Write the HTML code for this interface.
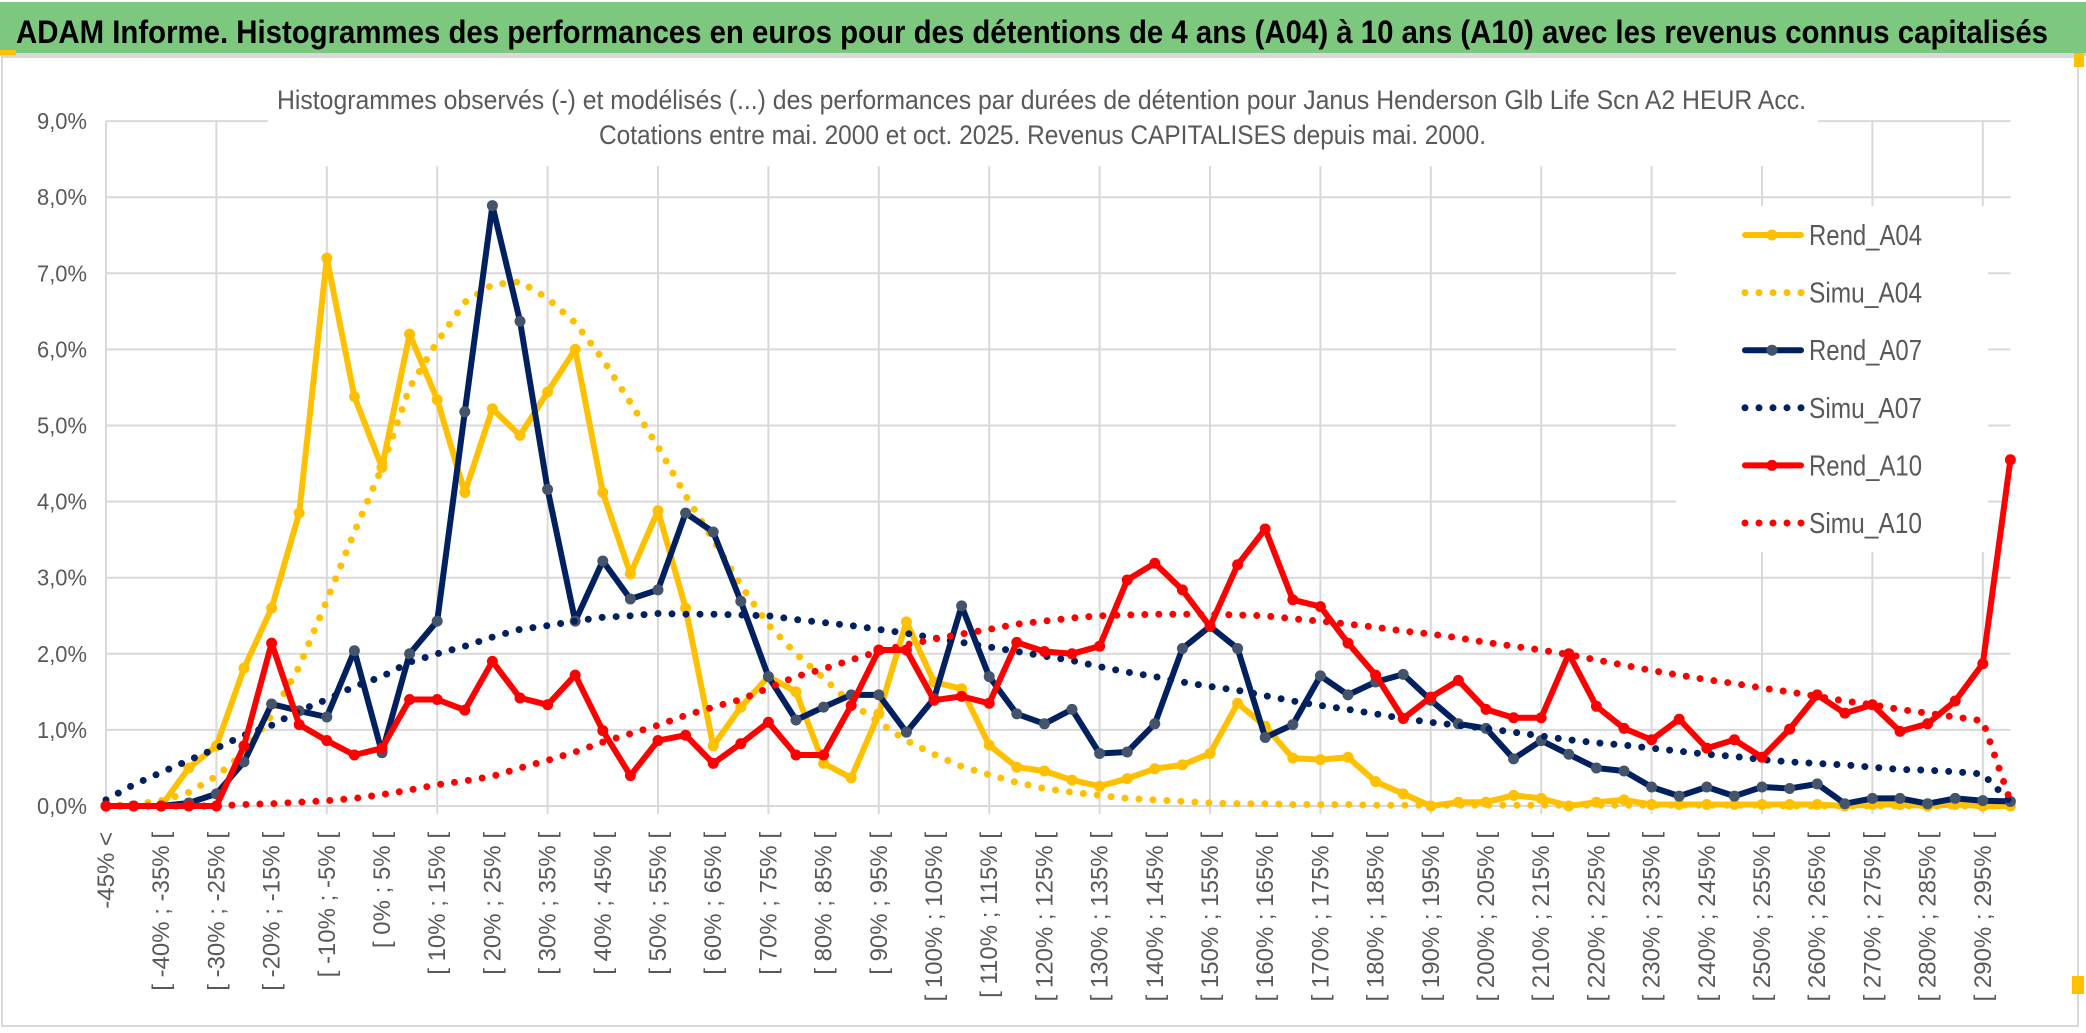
<!DOCTYPE html>
<html><head><meta charset="utf-8">
<style>
html,body{margin:0;padding:0;background:#fff;}
svg{display:block;font-family:"Liberation Sans",sans-serif;}
</style></head>
<body>
<svg id="chart" width="2086" height="1033" viewBox="0 0 2086 1033" xmlns="http://www.w3.org/2000/svg">
  <rect x="0" y="0" width="2086" height="1033" fill="#fff"/>
  <rect x="2" y="57" width="2076" height="969" fill="#fff" stroke="#d9d9d9" stroke-width="2"/>
  <rect x="0" y="2" width="2086" height="51" fill="#7dc87f"/>
  <rect x="0" y="53" width="2086" height="3" fill="#d9d9d9"/>
  <rect x="0" y="50" width="16" height="5" fill="#ffc000"/>
  <rect x="2074" y="53" width="10" height="14" fill="#ffc000"/>
  <rect x="2072" y="976" width="12" height="18" fill="#ffc000"/>
  <text x="16" y="43" font-size="32" font-weight="bold" fill="#000" textLength="2032" lengthAdjust="spacingAndGlyphs">ADAM Informe. Histogrammes des performances en euros pour des détentions de 4 ans (A04) à 10 ans (A10) avec les revenus connus capitalisés</text>
  <g id="grid"></g>
  <rect x="268" y="78" width="1550" height="88" fill="#fff"/>
  <text x="277" y="109" font-size="27" fill="#595959" textLength="1529" lengthAdjust="spacingAndGlyphs">Histogrammes observés (-) et modélisés (...) des performances par durées de détention pour Janus Henderson Glb Life Scn A2 HEUR Acc.</text>
  <text x="599" y="144" font-size="27" fill="#595959" textLength="887" lengthAdjust="spacingAndGlyphs">Cotations entre mai. 2000 et oct. 2025. Revenus CAPITALISES depuis mai. 2000.</text>
  <g id="ylabels"></g>
  <g id="xlabels"></g>
  <rect x="1676" y="206" width="312" height="346" fill="#fff"/>
  <g id="series"></g>
  <g id="legend"></g>
</svg>
<script>
const categoriesCount = 70;
const yTicks = [0,1,2,3,4,5,6,7,8,9];
const yTickLabels = ["0,0%","1,0%","2,0%","3,0%","4,0%","5,0%","6,0%","7,0%","8,0%","9,0%"];
const binStarts = [];
for (let k = 1; k < 70; k++) binStarts.push(-45 + 5*(k-1));
const rendA04 = [0,0,0,0.5,0.79,1.81,2.6,3.85,7.2,5.38,4.45,6.2,5.34,4.12,5.22,4.87,5.44,6.0,4.12,3.05,3.88,2.6,0.79,1.3,1.7,
 1.5,0.56,0.37,1.21,2.42,1.63,1.54,0.8,0.51,0.46,0.34,0.26,0.36,0.49,0.54,0.69,
 1.35,1.05,0.63,0.61,0.64,0.32,0.16,0.0,0.05,0.05,0.14,0.1,0.0,0.05,0.08,
 0.02,0.02,0.02,0.02,0.02,0.02,0.02,0.0,0.02,0.02,0.0,0.02,0.0,0.0];
const simuA04 = [0,0.02,0.07,0.18,0.39,0.7,1.19,1.83,2.7,3.6,4.45,5.5,6.1,6.62,6.85,6.89,6.67,6.35,5.87,5.3,4.72,4.08,3.5,2.9,2.38,
 2.0,1.68,1.35,1.1,0.86,0.68,0.52,0.41,0.31,0.23,0.18,0.14,0.1,0.08,0.06,0.04,
 0.03,0.03,0.02,0.02,0.02,0.01,0.01,0.01,0.01,0.01,0.01,0.01,0.01,0.01,0.01,
 0.01,0.01,0.01,0.01,0.01,0,0,0,0,0,0,0,0,0];
const rendA07 = [0,0,0,0.04,0.16,0.58,1.34,1.25,1.17,2.04,0.7,2.0,2.43,5.18,7.89,6.37,4.16,2.43,3.22,2.72,2.84,3.85,3.6,2.69,1.7,
 1.13,1.3,1.46,1.46,0.97,1.41,2.63,1.7,1.21,1.08,1.27,0.69,0.71,1.08,2.07,2.36,
 2.07,0.9,1.07,1.71,1.46,1.63,1.73,1.39,1.08,1.02,0.62,0.86,0.68,0.5,0.46,
 0.25,0.13,0.25,0.13,0.25,0.23,0.29,0.03,0.1,0.1,0.03,0.1,0.07,0.06];
const simuA07 = [0.08,0.28,0.44,0.6,0.76,0.93,1.06,1.25,1.4,1.57,1.7,1.89,2.0,2.1,2.22,2.32,2.37,2.43,2.48,2.5,2.53,2.52,2.52,2.51,2.5,
 2.45,2.41,2.37,2.32,2.27,2.21,2.15,2.09,2.03,1.97,1.91,1.83,1.76,1.7,1.63,1.57,
 1.52,1.45,1.38,1.32,1.27,1.21,1.15,1.1,1.06,1.02,0.97,0.92,0.87,0.83,0.8,
 0.76,0.72,0.68,0.65,0.61,0.58,0.56,0.54,0.51,0.48,0.47,0.45,0.42,0.05];
const rendA10 = [0,0,0,0,0,0.79,2.14,1.07,0.86,0.67,0.76,1.4,1.4,1.26,1.9,1.42,1.33,1.72,0.99,0.4,0.86,0.93,0.56,0.82,1.1,
 0.67,0.67,1.32,2.05,2.05,1.39,1.44,1.35,2.15,2.03,2.0,2.1,2.97,3.19,2.84,2.36,
 3.17,3.64,2.71,2.62,2.14,1.72,1.15,1.43,1.65,1.27,1.16,1.16,2.0,1.31,1.02,
 0.87,1.14,0.76,0.87,0.64,1.01,1.46,1.22,1.33,0.98,1.08,1.38,1.87,4.55];
const simuA10 = [0,0,0,0,0,0.02,0.03,0.05,0.07,0.1,0.15,0.21,0.28,0.33,0.39,0.5,0.6,0.71,0.84,0.95,1.06,1.19,1.3,1.4,1.55,
 1.7,1.8,1.92,2.03,2.12,2.19,2.26,2.32,2.39,2.43,2.47,2.5,2.51,2.52,2.52,2.52,
 2.51,2.5,2.46,2.43,2.39,2.35,2.3,2.26,2.21,2.15,2.1,2.05,1.99,1.92,1.85,
 1.78,1.72,1.66,1.61,1.55,1.5,1.44,1.38,1.33,1.27,1.22,1.17,1.12,0.06];
const seriesNames = ["Rend_A04","Simu_A04","Rend_A07","Simu_A07","Rend_A10","Simu_A10"];

const NS = "http://www.w3.org/2000/svg";
const X0 = 106, STEP = 27.6, Y0 = 806, YPER = 76.1;
function xPos(i){ return X0 + i*STEP; }
function yPos(v){ return Y0 - v*YPER; }
function mk(tag, attrs, parent){ const e = document.createElementNS(NS, tag); for (const k in attrs) e.setAttribute(k, attrs[k]); parent.appendChild(e); return e; }

const grid = document.getElementById('grid');
const xEnd = xPos(categoriesCount-1);
yTicks.forEach(function(t){
  const l = mk('line', {x1:X0, x2:xEnd, y1:yPos(t), y2:yPos(t), stroke:'#d9d9d9', 'stroke-width':2}, grid);
  
  
});
for (let i = 0; i < categoriesCount; i += 4) {
  const l = mk('line', {x1:xPos(i), x2:xPos(i), y1:yPos(9), y2:Y0+8, stroke:'#d9d9d9', 'stroke-width':2}, grid);
  
  
}

const yl = document.getElementById('ylabels');
yTicks.forEach(function(t, k){
  const tx = mk('text', {x:87, y:yPos(t)+8, 'text-anchor':'end', 'font-size':23, fill:'#595959', textLength:50, lengthAdjust:'spacingAndGlyphs'}, yl);
  tx.textContent = yTickLabels[k];
  
  
});

const xl = document.getElementById('xlabels');
function catLabel(i){
  if (i === 0) return "-45% <";
  const a = binStarts[i-1];
  return "[ " + a + "% ; " + (a+5) + "% [";
}
for (let i = 0; i < categoriesCount; i += 2) {
  const x = xPos(i) + 8, y = 832;
  const tx = mk('text', {x:x, y:y, 'text-anchor':'end', 'font-size':24, fill:'#595959', transform:'rotate(-90 '+x+' '+y+')'}, xl);
  tx.textContent = catLabel(i);
  
  
}

const layer = document.getElementById('series');
function pts(arr){ return arr.map(function(v,i){ return xPos(i).toFixed(1)+','+yPos(v).toFixed(1); }).join(' '); }
function solid(arr, color, marker, name){
  const g = mk('g', {}, layer);
  
  
  const pl = mk('polyline', {points:pts(arr), fill:'none', stroke:color, 'stroke-width':6, 'stroke-linejoin':'round', 'stroke-linecap':'round'}, g);
  
  
  arr.forEach(function(v,i){
    const c = mk('circle', {cx:xPos(i), cy:yPos(v), r:5.5, fill:marker}, g);
    
    
  });
}
function dotted(arr, color, name){
  const pl = mk('polyline', {points:pts(arr), fill:'none', stroke:color, 'stroke-width':7, 'stroke-linecap':'round', 'stroke-linejoin':'round', 'stroke-dasharray':'0 14'}, layer);
  
  
}
solid(rendA04, '#ffc000', '#ffc000', 'rend-a04');
dotted(simuA04, '#ffc000', 'simu-a04');
solid(rendA07, '#002060', '#44546a', 'rend-a07');
dotted(simuA07, '#002060', 'simu-a07');
solid(rendA10, '#ff0000', '#ff0000', 'rend-a10');
dotted(simuA10, '#ff0000', 'simu-a10');

const lg = document.getElementById('legend');
const legendColors = ['#ffc000','#ffc000','#002060','#002060','#ff0000','#ff0000'];
const legendMarkers = ['#ffc000',null,'#44546a',null,'#ff0000',null];
seriesNames.forEach(function(n, k){
  const cy = 235 + k*57.6;
  const g = mk('g', {}, lg);
  
  
  if (legendMarkers[k]) {
    mk('line', {x1:1745, x2:1801, y1:cy, y2:cy, stroke:legendColors[k], 'stroke-width':6, 'stroke-linecap':'round'}, g);
    mk('circle', {cx:1772, cy:cy, r:5.5, fill:legendMarkers[k]}, g);
  } else {
    mk('line', {x1:1745, x2:1803, y1:cy, y2:cy, stroke:legendColors[k], 'stroke-width':7, 'stroke-linecap':'round', 'stroke-dasharray':'0 14'}, g);
  }
  const tx = mk('text', {x:1809, y:cy+10, 'font-size':29, fill:'#595959', textLength:113, lengthAdjust:'spacingAndGlyphs'}, g);
  tx.textContent = n;
  
  
});
</script>
</body></html>
